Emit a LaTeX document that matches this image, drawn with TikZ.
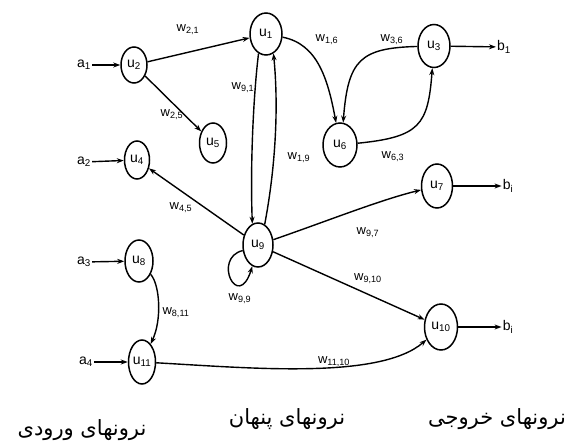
\documentclass[tikz,border=0pt]{standalone}
\usepackage{fontspec}
\setmainfont{Liberation Sans}
\newfontfamily\arabicfont[Script=Arabic]{DejaVu Sans}
\TeXXeTstate=1
\usetikzlibrary{arrows.meta,shapes.geometric}
\newcommand\lbl[2]{#1\textsubscript{#2}}
\tikzset{
  neuron/.style={draw, ellipse, line width=1.5pt, inner sep=0pt, font=\fontsize{14}{15}\selectfont},
  arr/.style={-{Stealth[length=7pt,width=5pt]}, line width=1.4pt},
  wl/.style={font=\fontsize{13}{14}\selectfont, inner sep=1pt},
  io/.style={font=\fontsize{14}{15}\selectfont, inner sep=1pt},
  fa/.style={font=\arabicfont\fontsize{21}{24}\selectfont, inner sep=0pt}
}
\begin{document}
\begin{tikzpicture}[x=1pt,y=-1pt]
\useasboundingbox (0,0) rectangle (580,443);
% neurons
\node[neuron, minimum width=26pt, minimum height=36pt] (u2) at (134,65) {\lbl{u}{2}};
\node[neuron, minimum width=32pt, minimum height=42pt] (u1) at (266,34) {\lbl{u}{1}};
\node[neuron, minimum width=27pt, minimum height=40pt] (u5) at (213,143) {\lbl{u}{5}};
\node[neuron, minimum width=25pt, minimum height=38pt] (u4) at (137,160) {\lbl{u}{4}};
\node[neuron, minimum width=32pt, minimum height=43pt] (u3) at (434,46) {\lbl{u}{3}};
\node[neuron, minimum width=34pt, minimum height=44pt] (u6) at (340,145) {\lbl{u}{6}};
\node[neuron, minimum width=31pt, minimum height=44pt] (u7) at (437,186) {\lbl{u}{7}};
\node[neuron, minimum width=30pt, minimum height=44pt] (u9) at (258,245) {\lbl{u}{9}};
\node[neuron, minimum width=28pt, minimum height=42pt] (u8) at (139,261) {\lbl{u}{8}};
\node[neuron, minimum width=27pt, minimum height=44pt] (u11) at (142,362) {\lbl{u}{11}};
\node[neuron, minimum width=33pt, minimum height=46pt] (u10) at (441,327) {\lbl{u}{10}};
% inputs and outputs
\node[io] (a1) at (84,65) {\lbl{a}{1}};
\node[io] (a2) at (84,162) {\lbl{a}{2}};
\node[io] (a3) at (84,262) {\lbl{a}{3}};
\node[io] (a4) at (86,362) {\lbl{a}{4}};
\node[io] (b1) at (504,47) {\lbl{b}{1}};
\node[io] (b2) at (508,186) {\lbl{b}{i}};
\node[io] (b3) at (508,327) {\lbl{b}{i}};
\draw[arr] (a1) -- (u2);
\draw[arr] (a2) -- (u4);
\draw[arr] (a3) -- (u8);
\draw[arr] (a4) -- (u11);
\draw[arr] (u3) -- (b1);
\draw[arr] (u7) -- (b2);
\draw[arr] (u10) -- (b3);
% connections
\draw[arr] (u2) -- (u1);
\draw[arr] (u2) -- (u5);
\draw[arr] (u1.249) .. controls (254,90) and (250,160) .. (u9.105);
\draw[arr] (u9.72) .. controls (275,170) and (279,110) .. (u1.-69);
\draw[arr] (u1) .. controls (318,44) and (328,80) .. (u6.100);
\draw[arr] (u3) .. controls (360,48) and (348,60) .. (u6.82);
\draw[arr] (u6) .. controls (420,137) and (428,125) .. (u3);
\draw[arr] (u9) -- (u4);
\draw[arr] (u9) .. controls (330,220) and (380,200) .. (u7);
\draw[arr] (u9) -- (u10);
\draw[arr] (u11) .. controls (250,368) and (380,380) .. (u10);
\draw[arr] (u8) .. controls (160,285) and (162,320) .. (u11);
\draw[arr] (u9.200) .. controls (212,258) and (238,312) .. (u9.255);
% weight labels
\node[wl] (w21) at (188,30) {\lbl{w}{2,1}};
\node[wl] (w25) at (172,115) {\lbl{w}{2,5}};
\node[wl] (w91) at (243,88) {\lbl{w}{9,1}};
\node[wl] (w19) at (299,158) {\lbl{w}{1,9}};
\node[wl] (w16) at (327,40) {\lbl{w}{1,6}};
\node[wl] (w36) at (392,40) {\lbl{w}{3,6}};
\node[wl] (w63) at (393,157) {\lbl{w}{6,3}};
\node[wl] (w45) at (181,208) {\lbl{w}{4,5}};
\node[wl] (w97) at (368,233) {\lbl{w}{9,7}};
\node[wl] (w910) at (368,279) {\lbl{w}{9,10}};
\node[wl] (w1110) at (334,362) {\lbl{w}{11,10}};
\node[wl] (w811) at (176,313) {\lbl{w}{8,11}};
\node[wl] (w99) at (240,299) {\lbl{w}{9,9}};
% group labels
\node[fa] (tin) at (82,430) {\beginR نرونهای ورودی\endR};
\node[fa] (thid) at (287,419) {\beginR نرونهای پنهان\endR};
\node[fa] (tout) at (497,419) {\beginR نرونهای خروجی\endR};
\end{tikzpicture}
\end{document}
